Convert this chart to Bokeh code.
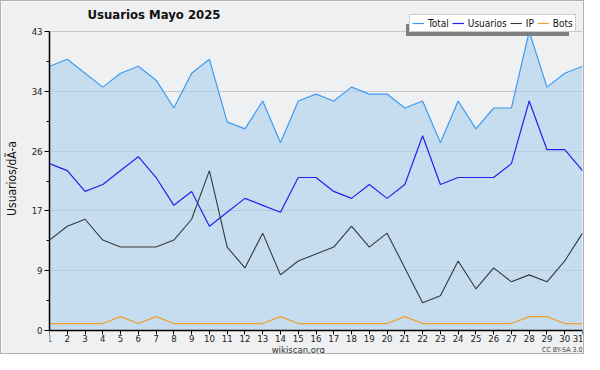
from bokeh.plotting import figure
from bokeh.models import (ColumnDataSource, FixedTicker, Legend, LegendItem, Label, Range1d)
from bokeh.embed import file_html
from bokeh.resources import INLINE

days = list(range(1, 32))
total = [38, 39, 37, 35, 37, 38, 36, 32, 37, 39, 30, 29, 33, 27, 33, 34, 33, 35, 34, 34,
         32, 33, 27, 33, 29, 32, 32, 43, 35, 37, 38]
usuarios = [24, 23, 20, 21, 23, 25, 22, 18, 20, 15, 17, 19, 18, 17, 22, 22, 20, 19, 21, 19,
            21, 28, 21, 22, 22, 22, 24, 33, 26, 26, 23]
ip = [13, 15, 16, 13, 12, 12, 12, 13, 16, 23, 12, 9, 14, 8, 10, 11, 12, 15, 12, 14,
      9, 4, 5, 10, 6, 9, 7, 8, 7, 10, 14]
bots = [1, 1, 1, 1, 2, 1, 2, 1, 1, 1, 1, 1, 1, 2, 1, 1, 1, 1, 1, 1,
        2, 1, 1, 1, 1, 1, 1, 2, 2, 1, 1]
y_ticks = [0, 8.6, 17.2, 25.8, 34.4, 43]
y_tick_labels = ["0", "9", "17", "26", "34", "43"]
y_minor = [4.3, 12.9, 21.5, 30.1, 38.7]
title_text = "Usuarios  Mayo 2025"
y_label = "Usuarios/dÃ-a"
series_names = ["Total", "Usuarios", "IP", "Bots"]
y_max = 43

FONT = "'DejaVu Sans Condensed', 'DejaVu Sans'"
W, H = 584, 354
TOP_PX, BOT_PX = 30, 25          # frame pixels above y_max and below 0
span = H - TOP_PX - BOT_PX
upp = y_max / span

src = ColumnDataSource(dict(day=days, total=total, usuarios=usuarios, ip=ip, bots=bots,
                            zero=[0] * len(days)))

p = figure(width=W, height=H, output_backend="svg", toolbar_location=None,
           x_range=Range1d(1, 31),
           y_range=Range1d(-BOT_PX * upp, y_max + TOP_PX * upp),
           min_border_left=46, min_border_right=3, min_border_top=0, min_border_bottom=0)
p.title.visible = False
p.background_fill_color = "#eff0f1"
p.border_fill_color = "#f0f0f0"
p.outline_line_color = None
p.styles = {"border": "1px solid #b0b0b0"}

p.varea(x="day", y1="zero", y2="total", source=src, fill_color="#aacfef", fill_alpha=0.6)
r_total = p.line("day", "total", source=src, line_color="#3d9cf0", line_width=1.2)
r_users = p.line("day", "usuarios", source=src, line_color="#2222ee", line_width=1.2)
r_ip = p.line("day", "ip", source=src, line_color="#383838", line_width=1.1)
r_bots = p.line("day", "bots", source=src, line_color="#f0a030", line_width=1.2)
# invisible renderer used only for the legend's drop shadow
r_shadow = p.line(x=[], y=[], line_alpha=0)

# axes
p.xaxis.ticker = FixedTicker(ticks=days)
p.xaxis.fixed_location = 0
p.yaxis.ticker = FixedTicker(ticks=y_ticks, minor_ticks=y_minor)
p.yaxis.major_label_overrides = {t: l for t, l in zip(y_ticks, y_tick_labels)}
p.yaxis.bounds = (0, y_max)
for ax in (p.xaxis[0], p.yaxis[0]):
    ax.axis_line_color = "black"
    ax.axis_line_width = 1.5
    ax.major_tick_in = 0
    ax.major_tick_out = 5
    ax.minor_tick_in = 0
    ax.minor_tick_out = 3
    ax.major_tick_line_color = "black"
    ax.minor_tick_line_color = "black"
    ax.major_label_text_font = FONT
    ax.major_label_text_font_size = "9.5px"
    ax.major_label_text_color = "#222222"
    ax.major_label_standoff = 2
p.xaxis.minor_tick_out = 0
p.xaxis.major_tick_out = 4
p.xaxis.major_label_standoff = 0
p.yaxis.axis_label = y_label
p.yaxis.axis_label_text_font = FONT
p.yaxis.axis_label_text_font_size = "12px"
p.yaxis.axis_label_text_font_style = "normal"
p.yaxis.axis_label_text_color = "#111111"
p.yaxis.axis_label_standoff = 10

p.xgrid.grid_line_color = None
p.ygrid.grid_line_color = "#c8c9cc"
p.ygrid.grid_line_width = 1

# texts
p.add_layout(Label(x=1, y=y_max, x_offset=38, y_offset=10, text=title_text,
                   text_font=FONT, text_font_size="13px", text_font_style="bold",
                   text_color="#111111"))
p.add_layout(Label(x=15, y=0, y_offset=-13, text="wikiscan.org", text_align="center",
                   text_baseline="top", text_font=FONT, text_font_size="9.5px",
                   text_color="#333333"))
p.add_layout(Label(x=31, y=0, y_offset=-15, text="CC BY-SA 3.0", text_align="right",
                   text_baseline="top", text_font=FONT, text_font_size="7px",
                   text_color="#444444"))

# legend drop shadow (single blank item, same size as the legend)
shadow = Legend(items=[LegendItem(label="", renderers=[r_shadow])],
                orientation="horizontal", glyph_width=12, glyph_height=12,
                label_standoff=4, spacing=3, padding=2, margin=0,
                label_height=12, label_width=147,
                background_fill_color="#808080", background_fill_alpha=1.0,
                border_line_color=None, location=(357, 319))
p.add_layout(shadow)

legend = Legend(items=[LegendItem(label=n, renderers=[r]) for n, r in
                       zip(series_names, [r_total, r_users, r_ip, r_bots])],
                orientation="horizontal",
                glyph_width=12, glyph_height=12, label_standoff=4, spacing=3,
                padding=2, margin=0, label_height=12, label_width=8,
                label_text_font=FONT, label_text_font_size="10px",
                label_text_color="#111111",
                border_line_color="#999999", border_line_width=1,
                background_fill_color="white", background_fill_alpha=1.0,
                location=(360, 323))
p.add_layout(legend)

open("out.html", "w").write(file_html(p, INLINE))
